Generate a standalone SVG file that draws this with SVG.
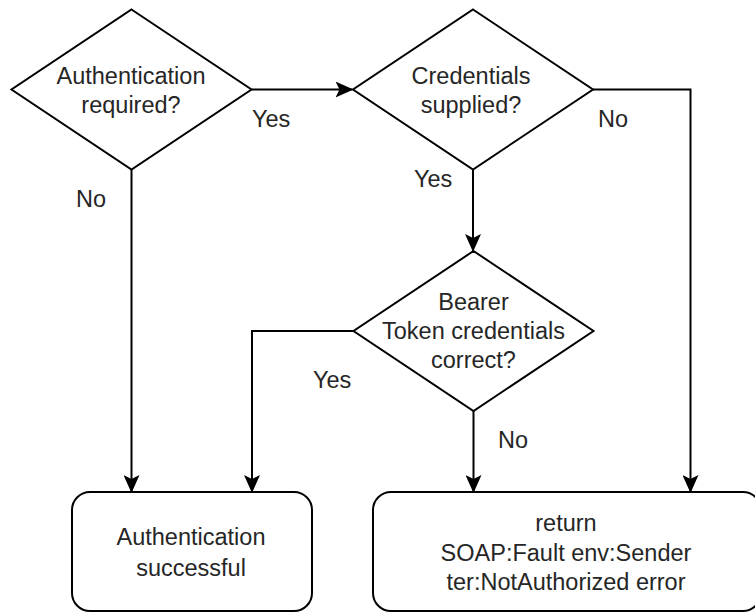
<svg xmlns="http://www.w3.org/2000/svg" width="755" height="612" viewBox="0 0 755 612">
  <defs>
    <marker id="arrow" markerUnits="userSpaceOnUse" viewBox="0 0 18 16" refX="17" refY="8" markerWidth="18" markerHeight="16" orient="auto">
      <path d="M0,0 L18,8 L0,16 L4,8 Z" fill="#000"/>
    </marker>
    <style>
      .shape { fill: #fff; stroke: #000; stroke-width: 2; }
      .edge { fill: none; stroke: #000; stroke-width: 2; }
      .arr { marker-end: url(#arrow); }
      text { font-family: "Liberation Sans", Arial, sans-serif; font-size: 23.5px; fill: #262626; }
      .c { text-anchor: middle; }
    </style>
  </defs>
  <rect width="755" height="612" fill="#fff"/>

  <g id="connectors">
    <path class="edge arr" d="M251.5,89.5 H352.5"/>
    <path class="edge arr" d="M131.5,169.5 V492"/>
    <path class="edge arr" d="M473,169.5 V251"/>
    <path class="edge arr" d="M593,89.5 H690.5 V492"/>
    <path class="edge arr" d="M353.5,331 H252 V492"/>
    <path class="edge arr" d="M473.5,411 V492"/>
    <text x="252" y="127">Yes</text>
    <text x="76" y="207">No</text>
    <text x="598" y="127">No</text>
    <text x="414" y="187">Yes</text>
    <text x="313" y="388">Yes</text>
    <text x="498" y="448">No</text>
  </g>

  <g id="auth-required">
    <polygon class="shape" points="131.5,9.5 251.5,89.5 131.5,169.5 11.5,89.5"/>
    <text class="c" x="131" y="83.5">Authentication</text>
    <text class="c" x="131" y="113">required?</text>
  </g>

  <g id="credentials-supplied">
    <polygon class="shape" points="473,9.5 593,89.5 473,169.5 353,89.5"/>
    <text class="c" x="471" y="83.5">Credentials</text>
    <text class="c" x="471" y="113">supplied?</text>
  </g>

  <g id="bearer-correct">
    <polygon class="shape" points="473.5,251 593.5,331 473.5,411 353.5,331"/>
    <text class="c" x="473.5" y="310">Bearer</text>
    <text class="c" x="473.5" y="339">Token credentials</text>
    <text class="c" x="473.5" y="368">correct?</text>
  </g>

  <g id="auth-successful">
    <rect class="shape" x="72" y="492" width="240" height="119" rx="18" ry="18"/>
    <text class="c" x="191" y="545">Authentication</text>
    <text class="c" x="191" y="575.5">successful</text>
  </g>

  <g id="soap-fault">
    <rect class="shape" x="373" y="492" width="388" height="119" rx="18" ry="18"/>
    <text class="c" x="566" y="531">return</text>
    <text class="c" x="566" y="560.5">SOAP:Fault env:Sender</text>
    <text class="c" x="566" y="590">ter:NotAuthorized error</text>
  </g>
</svg>
